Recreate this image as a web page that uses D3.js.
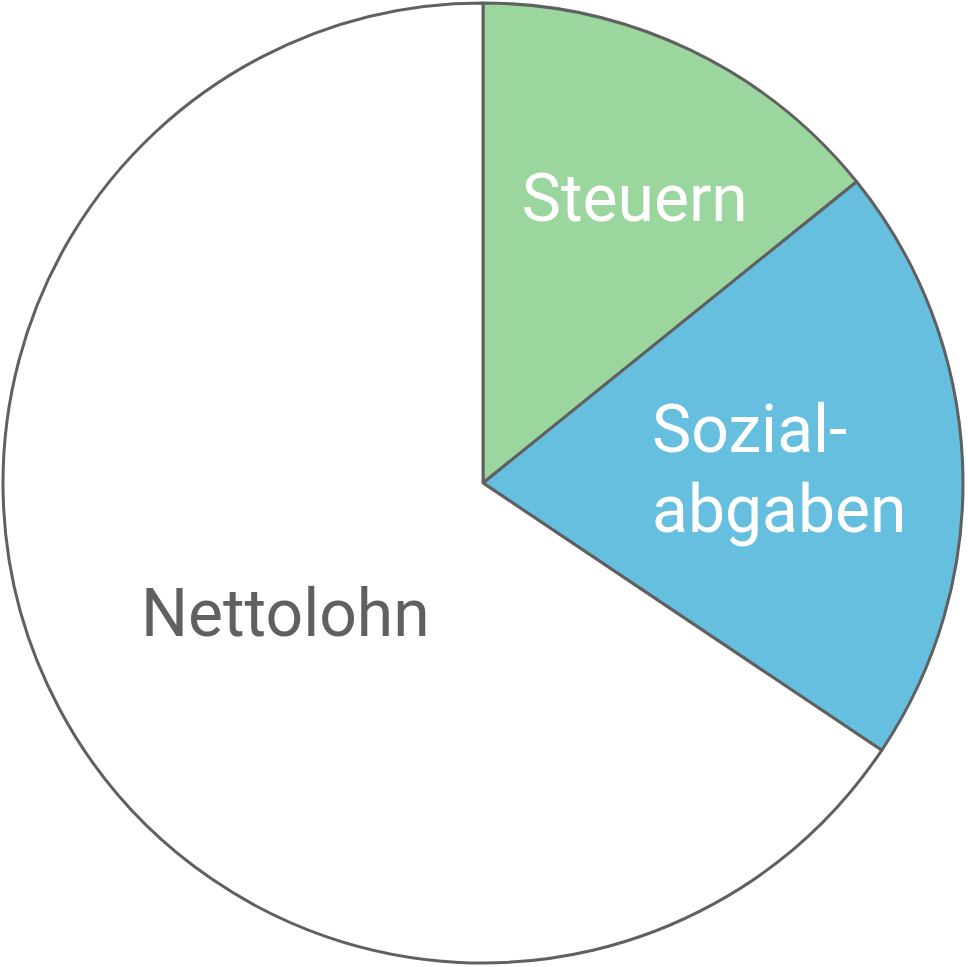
<!DOCTYPE html>
<html>
<head>
<meta charset="utf-8">
<script src="https://cdn.jsdelivr.net/npm/d3@7"></script>
<style>
  html, body { margin: 0; padding: 0; background: #fff; }
  .slice { stroke: #606060; stroke-width: 3; stroke-linejoin: round; }
  .label { font-family: Roboto, "Noto Sans", sans-serif; font-size: 66px; }
</style>
</head>
<body>
<div id="chart"></div>
<script>
var categories = ['Steuern', 'Sozialabgaben', 'Nettolohn'],
    labels = [['Steuern'], ['Sozial-', 'abgaben'], ['Nettolohn']],
    values = [14.2, 20.2, 65.6];

var colors = ['#9bd69e', '#66bfdf', '#ffffff'],
    textColors = ['#ffffff', '#ffffff', '#606060'],
    // label nudges away from the arc centroid
    nudge = [[13, 5], [-25, 0], [86, -22]];

var width = 968,
    height = 967,
    radius = 480,
    lineHeight = 80,
    capHalf = 23.5;

var svg = d3.select('#chart').append('svg')
    .attr('width', width)
    .attr('height', height)
  .append('g')
    .attr('transform', 'translate(483,483)');

var pie = d3.pie().sort(null).value(function(d) { return d; });

var arc = d3.arc().innerRadius(0).outerRadius(radius);
var labelArc = d3.arc().innerRadius(radius * 0.67).outerRadius(radius * 0.67);

var arcs = pie(values);

svg.selectAll('.slice')
    .data(arcs)
  .enter().append('path')
    .attr('class', 'slice')
    .attr('fill', function(d, i) { return colors[i]; })
    .attr('d', arc);

var text = svg.selectAll('.label')
    .data(arcs)
  .enter().append('text')
    .attr('class', 'label')
    .attr('fill', function(d, i) { return textColors[i]; });

text.each(function(d, i) {
  var el = d3.select(this),
      c = labelArc.centroid(d),
      cx = c[0] + nudge[i][0],
      cy = c[1] + nudge[i][1],
      lines = labels[i],
      y0 = cy - (lines.length - 1) * lineHeight / 2 + capHalf;

  var spans = el.selectAll('tspan')
      .data(lines)
    .enter().append('tspan')
      .attr('y', function(l, j) { return y0 + j * lineHeight; })
      .text(function(l) { return l; });

  // multi-line labels are left aligned, centred as a block
  var maxW = 0;
  spans.each(function() { maxW = Math.max(maxW, this.getComputedTextLength()); });
  spans.attr('x', cx - maxW / 2);
});
</script>
</body>
</html>
